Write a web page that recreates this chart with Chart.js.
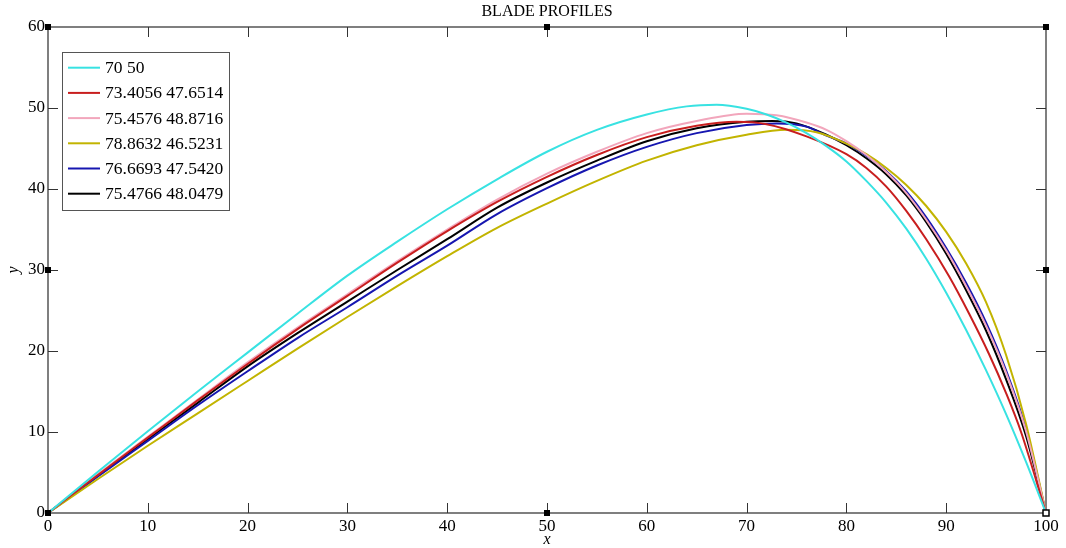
<!DOCTYPE html>
<html><head><meta charset="utf-8">
<script src="https://cdn.jsdelivr.net/npm/chart.js@4.4.0/dist/chart.umd.min.js"></script>
<style>html,body{margin:0;padding:0;background:#fff;overflow:hidden}</style>
</head><body>
<canvas id="c" width="1066" height="548"></canvas>
<script>
const chartTitle = 'BLADE PROFILES';
const xAxisTitle = 'x';
const yAxisTitle = 'y';
const seriesLabels = ['70 50','73.4056 47.6514','75.4576 48.8716','78.8632 46.5231','76.6693 47.5420','75.4766 48.0479'];
const seriesColors = ['#38e2e2','#c81e1e','#f2a6bc','#c2b400','#1616b0','#000000'];
const xTickValues = [0,10,20,30,40,50,60,70,80,90,100];
const yTickValues = [0,10,20,30,40,50,60];

const xCyan = [0,5,10,15,20,25,30,35,40,45,50,55,60,64,67,70,72,74,76,78,80,82,84,86,88,90,92,94,96,98,100];
const yCyan = [0,5.1,10.1,15.0,19.8,24.6,29.3,33.5,37.5,41.2,44.6,47.3,49.2,50.2,50.4,49.9,49.2,48.2,46.9,45.3,43.4,41.0,38.3,35.1,31.4,27.2,22.6,17.6,12.2,6.3,0];

const xRed = [0,5,10,15,20,25,30,35,40,45,50,55,60,65,69,72,76,80,82,84,86,88,90.3,92.3,94.3,96,97.5,100];
const yRed = [0,4.7,9.3,13.9,18.4,22.7,26.8,30.9,34.8,38.4,41.5,44.2,46.4,47.8,48.3,48.0,46.5,44.3,42.6,40.3,37.3,33.8,29.2,24.6,19.6,14.8,10,0];

const xPink = [0,5,10,15,20,25,30,35,40,45,50,55,60,65,70,73,76,78,80,82,84,86,88,90,92,94,96,98,100];
const yPink = [0,4.8,9.4,14.0,18.6,22.9,27.0,31.1,35.0,38.7,41.9,44.6,46.9,48.4,49.3,49.1,48.2,47.3,45.9,44.2,42.1,39.5,36.2,32.4,28.0,23.1,17.3,10.1,0];

const xYellow = [0,5,10,15,20,25,30,35,40,45,50,55,60,65,70,74,77,80,82,84,86,88,90,92,94,96,98,100];
const yYellow = [0,4.2,8.3,12.3,16.3,20.3,24.2,28.0,31.7,35.2,38.2,41.0,43.5,45.4,46.7,47.3,47.0,45.6,44.3,42.6,40.5,37.9,34.7,30.8,26.0,19.5,11.0,0];

const xBlue = [0,5,10,15,20,25,30,35,40,45,50,55,60,65,70,73,76,78,80,82,84,86,88,90,92,94,96,98,100];
const yBlue = [0,4.5,8.9,13.3,17.5,21.6,25.4,29.3,33.0,36.9,40.1,42.9,45.2,46.9,47.9,48.1,47.7,46.6,45.6,44.1,42.2,39.7,36.5,32.7,28.4,23.5,17.6,10.3,0];

const xBlack = [0,5,10,15,20,25,30,35,40,45,50,55,60,65,70,72.6,75,78,80,82,84,86,88,90,92,94,96,98,100];
const yBlack = [0,4.6,9.1,13.6,18.1,22.2,26.1,30.0,33.8,37.7,40.8,43.5,45.9,47.5,48.3,48.4,48.1,46.7,45.4,43.8,41.8,39.2,35.9,32.0,27.5,22.5,16.5,9.5,0];

const seriesX = [xCyan, xRed, xPink, xYellow, xBlue, xBlack];
const seriesY = [yCyan, yRed, yPink, yYellow, yBlue, yBlack];

const FONT = '"Liberation Serif", "Times New Roman", serif';
Chart.defaults.font.family = FONT;
Chart.defaults.color = '#000';

const datasets = seriesLabels.map((lab, i) => ({
  label: lab,
  data: seriesX[i].map((xv, k) => ({x: xv, y: seriesY[i][k]})),
  borderColor: seriesColors[i],
  backgroundColor: seriesColors[i],
  borderWidth: 2,
  pointRadius: 0,
  fill: false,
  cubicInterpolationMode: 'monotone'
}));

const decor = {
  id: 'decor',
  beforeDatasetsDraw(chart) {
    const {ctx, chartArea: a, scales: {x, y}} = chart;
    ctx.save();
    ctx.strokeStyle = '#555';
    ctx.lineWidth = 1.5;
    ctx.strokeRect(a.left, a.top, a.right - a.left, a.bottom - a.top);
    ctx.lineWidth = 1;
    ctx.strokeStyle = '#333';
    const L = 10;
    ctx.beginPath();
    xTickValues.forEach(v => {
      if (v === x.min || v === x.max) return;
      const px = Math.round(x.getPixelForValue(v)) + 0.5;
      ctx.moveTo(px, a.bottom); ctx.lineTo(px, a.bottom - L);
      ctx.moveTo(px, a.top); ctx.lineTo(px, a.top + L);
    });
    yTickValues.forEach(v => {
      if (v === y.min || v === y.max) return;
      const py = Math.round(y.getPixelForValue(v)) + 0.5;
      ctx.moveTo(a.left, py); ctx.lineTo(a.left + L, py);
      ctx.moveTo(a.right, py); ctx.lineTo(a.right - L, py);
    });
    ctx.stroke();
    ctx.restore();
  },
  afterDraw(chart) {
    const {ctx, chartArea: a, scales: {x, y}} = chart;
    ctx.save();
    const xm = [x.min, (x.min + x.max) / 2, x.max];
    const ym = [y.min, (y.min + y.max) / 2, y.max];
    xm.forEach((xv, i) => ym.forEach((yv, j) => {
      if (i === 1 && j === 1) return;
      const px = x.getPixelForValue(xv), py = y.getPixelForValue(yv);
      if (i === 2 && j === 0) {
        ctx.fillStyle = '#fff'; ctx.fillRect(px - 3, py - 3, 6, 6);
        ctx.strokeStyle = '#000'; ctx.lineWidth = 1.5; ctx.strokeRect(px - 3, py - 3, 6, 6);
      } else {
        ctx.fillStyle = '#000'; ctx.fillRect(px - 3, py - 3, 6, 6);
      }
    }));
    ctx.fillStyle = '#000';
    ctx.font = '16px ' + FONT;
    ctx.textAlign = 'center';
    ctx.textBaseline = 'middle';
    ctx.fillText(chartTitle, (a.left + a.right) / 2, 12);
    const ds = chart.data.datasets;
    ctx.font = '17.5px ' + FONT;
    let maxW = 0;
    ds.forEach(d => { maxW = Math.max(maxW, ctx.measureText(d.label).width); });
    const bx = a.left + 14, by = a.top + 25, rowH = 25.2;
    const textX = bx + 43;
    const bw = textX - bx + maxW + 6, bh = ds.length * rowH + 7;
    ctx.fillStyle = '#fff';
    ctx.fillRect(bx, by, bw, bh);
    ctx.strokeStyle = '#555'; ctx.lineWidth = 1;
    ctx.strokeRect(Math.round(bx) + 0.5, Math.round(by) + 0.5, Math.round(bw), Math.round(bh));
    ctx.textAlign = 'left';
    ctx.textBaseline = 'middle';
    ds.forEach((d, i) => {
      const cy = by + 15.7 + i * rowH;
      ctx.strokeStyle = d.borderColor; ctx.lineWidth = 2;
      ctx.beginPath(); ctx.moveTo(bx + 6, cy); ctx.lineTo(bx + 38, cy); ctx.stroke();
      ctx.fillStyle = '#000';
      ctx.fillText(d.label, textX, cy + 1);
    });
    ctx.restore();
  }
};

new Chart(document.getElementById('c'), {
  type: 'line',
  data: {datasets},
  options: {
    responsive: false,
    animation: false,
    layout: {padding: {top: 27, right: 20, left: 0, bottom: 0}},
    plugins: {legend: {display: false}, title: {display: false}, tooltip: {enabled: false}},
    scales: {
      x: {
        type: 'linear', min: 0, max: 100,
        afterBuildTicks: s => { s.ticks = xTickValues.map(v => ({value: v})); },
        afterFit: s => { s.height = 35; },
        grid: {display: false, drawTicks: false},
        border: {display: false},
        ticks: {padding: 3, color: '#000', font: {size: 17}, autoSkip: false, maxRotation: 0},
        title: {display: true, text: xAxisTitle, color: '#000', font: {size: 16, style: 'italic', lineHeight: 1}, padding: 0}
      },
      y: {
        type: 'linear', min: 0, max: 60,
        afterBuildTicks: s => { s.ticks = yTickValues.map(v => ({value: v})); },
        afterFit: s => { s.width = 48; },
        grid: {display: false, drawTicks: false},
        border: {display: false},
        ticks: {padding: 3, color: '#000', font: {size: 17}, autoSkip: false},
        title: {display: true, text: yAxisTitle, color: '#000', font: {size: 16, style: 'italic', lineHeight: 1}, padding: 6}
      }
    }
  },
  plugins: [decor]
});
</script>
</body></html>
